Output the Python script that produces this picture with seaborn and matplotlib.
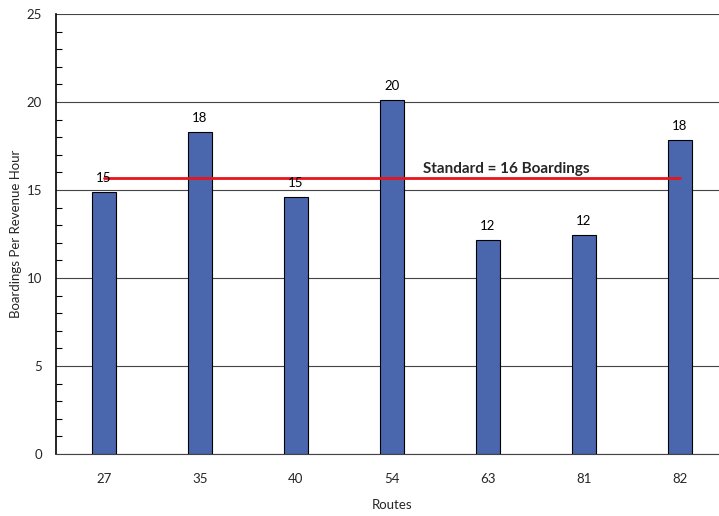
import matplotlib
matplotlib.use("Agg")
import matplotlib.pyplot as plt
from matplotlib.ticker import MultipleLocator
import seaborn as sns
import pandas as pd

routes = ["27", "35", "40", "54", "63", "81", "82"]
boardings = [14.9, 18.3, 14.6, 20.1, 12.15, 12.45, 17.85]
standard = 15.7
y_ticks = [0, 5, 10, 15, 20, 25]

sns.set_theme(style="white")
plt.rcParams["font.family"] = ["Lato", "DejaVu Sans"]

df = pd.DataFrame({"Routes": routes, "Boardings": boardings})

fig = plt.figure(figsize=(7.19, 5.16), dpi=100)
ax = fig.add_axes([56 / 719, 62 / 516, 672 / 719, 440 / 516])

sns.barplot(data=df, x="Routes", y="Boardings", ax=ax, width=0.25,
            color="#4A66AC", saturation=1, edgecolor="black", linewidth=0.8,
            zorder=3)

for i, v in enumerate(boardings):
    ax.text(i, v + 0.45, f"{round(v):d}", ha="center", va="bottom",
            fontsize=9.5, color="black", zorder=5)

ax.plot([0, len(routes) - 1], [standard, standard], color="#E8141C",
        linewidth=2, zorder=4)
ax.text(3.32, standard + 0.12, f"Standard = {round(standard)} Boardings",
        ha="left", va="bottom", fontsize=11, fontweight="bold", zorder=5)

ax.set_xlim(-0.5, len(routes) - 0.5)
ax.set_ylim(0, 25)
ax.set_yticks(y_ticks)
ax.yaxis.set_minor_locator(MultipleLocator(1))
ax.grid(axis="y", which="major", color="#444444", linewidth=0.8, zorder=0)
ax.set_axisbelow(True)

for side in ["top", "right"]:
    ax.spines[side].set_visible(False)
ax.spines["left"].set_color("black")
ax.spines["left"].set_linewidth(1.2)
ax.spines["bottom"].set_color("#444444")
ax.spines["bottom"].set_linewidth(0.8)

ax.tick_params(axis="y", which="major", direction="out", length=6,
               width=1, color="black", labelsize=9.5, pad=4)
ax.tick_params(axis="y", which="minor", direction="in", length=4,
               width=0.8, color="black", left=True)
ax.tick_params(axis="x", which="both", length=0, labelsize=9.5, pad=14)

ax.set_xlabel("Routes", fontsize=9.5, labelpad=10)
ax.yaxis.set_label_coords(-34 / 672, 0.5)
ax.set_ylabel("Boardings Per Revenue Hour", fontsize=9.5)

fig.savefig("out.png", dpi=100)
